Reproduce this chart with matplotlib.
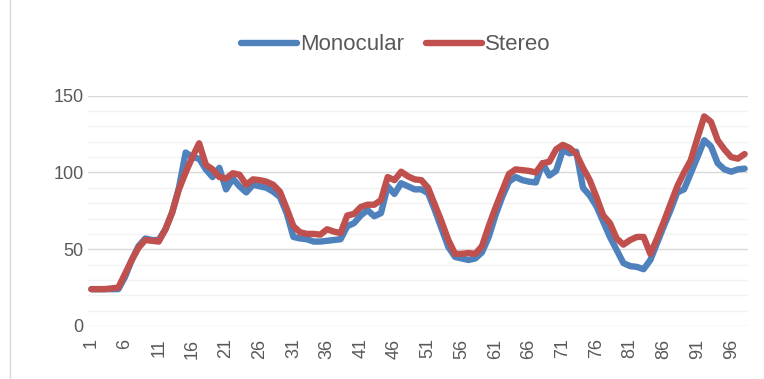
import numpy as np
import matplotlib
matplotlib.use("Agg")
import matplotlib.pyplot as plt
from matplotlib.lines import Line2D

# values (98 points each)
monocular = [24, 24, 24, 24, 24,
             32, 43, 52, 57, 56,
             56, 63, 74, 90, 113,
             110, 109, 102, 97, 103,
             89, 96, 91, 87, 92,
             91, 90, 87.5, 84, 73.5,
             58, 57, 56.5, 55, 55,
             55.5, 56, 56.5, 65, 67,
             72, 75.5, 71.5, 73.5, 91,
             86, 93, 91, 89, 89,
             86.5, 75.5, 63.5, 51.5, 45,
             44, 43, 44, 48, 58,
             72, 84, 94, 97, 95,
             94, 93.5, 106, 98, 101,
             114.5, 112.5, 113.5, 90, 85,
             78, 68, 58, 49.5, 41,
             39, 38.5, 37, 43, 54,
             65, 75.5, 87, 89, 99.5,
             110, 121, 117, 106, 102,
             100.5, 102, 102.5]
stereo = [24, 24, 24, 24.5, 25,
          34, 43, 51, 56, 55.5,
          55, 63, 74, 89, 100,
          110, 119, 105, 102, 97,
          96, 99.5, 98.5, 92, 95.5,
          95, 94, 92, 87.5, 76.5,
          65, 61, 60, 60, 59.5,
          63, 61.5, 60.5, 72, 73,
          77.5, 79, 79, 82, 97,
          95, 100.5, 97.5, 95.5, 95,
          90, 79, 68, 56, 47,
          47, 47.5, 47, 52, 65,
          77, 88, 99, 102, 101.5,
          101, 100, 106, 107, 115,
          118, 116, 112, 103, 95,
          84, 72, 67, 57, 53,
          56, 58, 58, 47, 57,
          68, 79.5, 91, 100, 108,
          122.5, 136.5, 133, 121, 115,
          110, 109, 112]
series_names = ["Monocular", "Stereo"]
colors = ["#4F81BD", "#C0504D"]
y_ticks = [0, 50, 100, 150]

x = np.arange(1, len(monocular) + 1)
x_ticks = list(range(1, len(monocular) + 1, 5))

plt.rcParams['font.family'] = ['Liberation Sans', 'DejaVu Sans']
text_color = "#595959"

fig = plt.figure(figsize=(7.64, 3.79), dpi=100)
ax = fig.add_axes([88 / 764, 1 - 326 / 379, (748 - 88) / 764, (326 - 95.7) / 379])

ax.plot(x, monocular, color=colors[0], lw=4.6, solid_joinstyle="round", solid_capstyle="round", zorder=3)
ax.plot(x, stereo, color=colors[1], lw=4.6, solid_joinstyle="round", solid_capstyle="round", zorder=4)

ax.set_xlim(0.5, len(monocular) + 0.5)
ax.set_ylim(0, 150)
ax.set_yticks(y_ticks)
ax.set_yticks(np.arange(0, 151, 10), minor=True)
ax.set_xticks(x_ticks)
ax.set_xticklabels([str(t) for t in x_ticks], rotation=90)

ax.grid(True, axis="y", which="minor", color="#f2f2f2", lw=1, zorder=0)
ax.grid(True, axis="y", which="major", color="#d9d9d9", lw=1, zorder=1)
for s in ax.spines.values():
    s.set_visible(False)
ax.tick_params(axis="both", which="both", length=0, labelsize=13, colors=text_color)
ax.tick_params(axis="x", pad=9)
ax.tick_params(axis="y", pad=3)

handles = [Line2D([], [], color=c, lw=4.6, solid_capstyle="round") for c in colors]
fig.legend(handles, series_names, loc="center", bbox_to_anchor=(396 / 764, 1 - 45 / 379),
           ncol=2, frameon=False, fontsize=16, handlelength=2.5, handletextpad=0.15,
           columnspacing=1.0, labelcolor=text_color)

# chart area border (left edge visible in the reference)
fig.add_artist(Line2D([10 / 764, 10 / 764], [0, 1], color="#d9d9d9", lw=1))

fig.savefig("out.png", dpi=100)
